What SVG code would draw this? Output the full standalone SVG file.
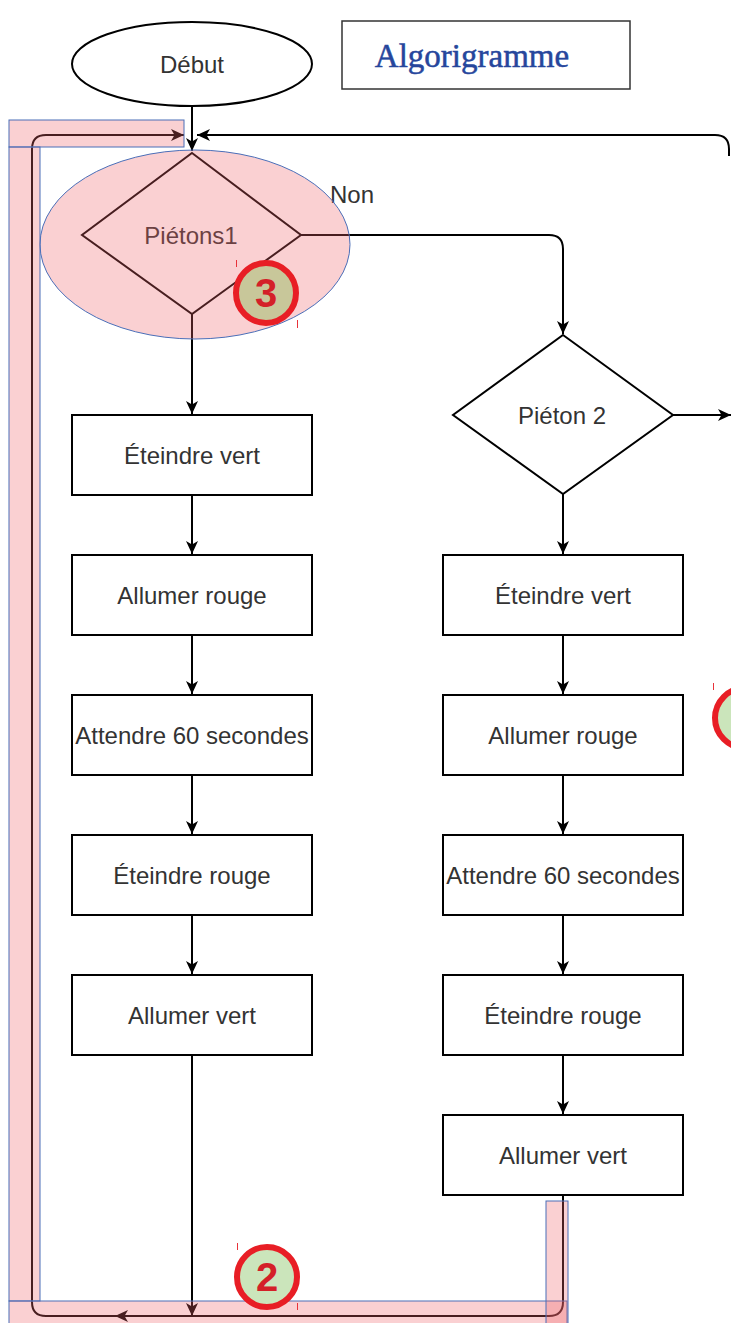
<svg xmlns="http://www.w3.org/2000/svg" width="731" height="1323" viewBox="0 0 731 1323">
<style>
.shape{fill:#ffffff;stroke:#000000;stroke-width:2}
.lbl{font-family:"Liberation Sans",Arial,sans-serif;font-size:24px;fill:#333333;text-anchor:middle}
.conn{fill:none;stroke:#000000;stroke-width:2}
.hl{fill:#ee646b;fill-opacity:0.3;stroke:#4a6eb8;stroke-width:1}
.badge{stroke:#e81e25;stroke-width:6}
.num{font-family:"Liberation Sans",Arial,sans-serif;font-size:40px;font-weight:bold;fill:#d42028;text-anchor:middle}
.tick{stroke:#e8323a;stroke-width:1}
</style>
<defs>
<marker id="arr" viewBox="0 0 13 12" refX="13" refY="6" markerWidth="13" markerHeight="12" markerUnits="userSpaceOnUse" orient="auto">
<path d="M0,0 L13,6 L0,12 L3.5,6 Z" fill="#000000"/>
</marker>
</defs>
<rect width="731" height="1323" fill="#ffffff"/>

<g id="title">
<rect x="342" y="21" width="288" height="68" fill="#ffffff" stroke="#333333" stroke-width="1.5"/>
<text x="472" y="67" font-family="'Liberation Serif','Times New Roman',serif" font-size="33" fill="#26469c" text-anchor="middle" stroke="#26469c" stroke-width="0.5">Algorigramme</text>
</g>

<g id="debut">
<ellipse class="shape" cx="192" cy="64" rx="120" ry="42"/>
<text class="lbl" x="192" y="73">Début</text>
</g>

<g id="pietons1">
<polygon class="shape" points="192,153 301,235 192,314 82,235"/>
<text class="lbl" x="191" y="244">Piétons1</text>
</g>

<g id="pieton2">
<polygon class="shape" points="563,335 673,415 563,494 453,415"/>
<text class="lbl" x="562" y="424">Piéton 2</text>
</g>

<g id="l1"><rect class="shape" x="72" y="415" width="240" height="80"/><text class="lbl" x="192" y="464">Éteindre vert</text></g>
<g id="l2"><rect class="shape" x="72" y="555" width="240" height="80"/><text class="lbl" x="192" y="604">Allumer rouge</text></g>
<g id="l3"><rect class="shape" x="72" y="695" width="240" height="80"/><text class="lbl" x="192" y="744">Attendre 60 secondes</text></g>
<g id="l4"><rect class="shape" x="72" y="835" width="240" height="80"/><text class="lbl" x="192" y="884">Éteindre rouge</text></g>
<g id="l5"><rect class="shape" x="72" y="975" width="240" height="80"/><text class="lbl" x="192" y="1024">Allumer vert</text></g>

<g id="r1"><rect class="shape" x="443" y="555" width="240" height="80"/><text class="lbl" x="563" y="604">Éteindre vert</text></g>
<g id="r2"><rect class="shape" x="443" y="695" width="240" height="80"/><text class="lbl" x="563" y="744">Allumer rouge</text></g>
<g id="r3"><rect class="shape" x="443" y="835" width="240" height="80"/><text class="lbl" x="563" y="884">Attendre 60 secondes</text></g>
<g id="r4"><rect class="shape" x="443" y="975" width="240" height="80"/><text class="lbl" x="563" y="1024">Éteindre rouge</text></g>
<g id="r5"><rect class="shape" x="443" y="1115" width="240" height="80"/><text class="lbl" x="563" y="1164">Allumer vert</text></g>

<g id="connectors">
<path class="conn" d="M192 106 V151" marker-end="url(#arr)"/>
<path class="conn" d="M192 314 V414" marker-end="url(#arr)"/>
<path class="conn" d="M192 495 V554" marker-end="url(#arr)"/>
<path class="conn" d="M192 635 V694" marker-end="url(#arr)"/>
<path class="conn" d="M192 775 V834" marker-end="url(#arr)"/>
<path class="conn" d="M192 915 V974" marker-end="url(#arr)"/>
<path class="conn" d="M192 1055 V1316" marker-end="url(#arr)"/>
<path class="conn" d="M301 235 H549 Q563 235 563 249 V334" marker-end="url(#arr)"/>
<text class="lbl" x="352" y="203">Non</text>
<path class="conn" d="M673 415 H731" marker-end="url(#arr)"/>
<path class="conn" d="M563 494 V554" marker-end="url(#arr)"/>
<path class="conn" d="M563 635 V694" marker-end="url(#arr)"/>
<path class="conn" d="M563 775 V834" marker-end="url(#arr)"/>
<path class="conn" d="M563 915 V974" marker-end="url(#arr)"/>
<path class="conn" d="M563 1055 V1114" marker-end="url(#arr)"/>
<path class="conn" d="M563 1195 V1302 Q563 1316 549 1316 H115" marker-end="url(#arr)"/>
<path class="conn" d="M120 1316 H46 Q32 1316 32 1302 V149 Q32 135 46 135 H184" marker-end="url(#arr)"/>
<path class="conn" d="M729 156 V149 Q729 135 715 135 H197" marker-end="url(#arr)"/>
</g>

<g id="highlights">
<ellipse class="hl" cx="195" cy="244.5" rx="155" ry="94.5"/>
<rect class="hl" x="9" y="120" width="175" height="27"/>
<rect class="hl" x="9" y="147" width="31" height="1154"/>
<rect class="hl" x="9" y="1301" width="558" height="30"/>
<rect class="hl" x="546" y="1201" width="22" height="130"/>
</g>

<g id="badge3">
<circle class="badge" cx="266" cy="293" r="30" fill="#c8c79a"/>
<text class="num" x="266" y="307">3</text>
<line class="tick" x1="236.5" y1="260" x2="236.5" y2="267"/>
<line class="tick" x1="297.5" y1="320" x2="297.5" y2="328"/>
</g>
<g id="badge2">
<circle class="badge" cx="267" cy="1277" r="30" fill="#cbe5bb"/>
<text class="num" x="267" y="1291">2</text>
<line class="tick" x1="237.5" y1="1243" x2="237.5" y2="1250"/>
<line class="tick" x1="297.5" y1="1303" x2="297.5" y2="1310"/>
</g>
<g id="badge-right">
<circle class="badge" cx="745" cy="718" r="30" fill="#cbe5bb"/>
<line class="tick" x1="713.5" y1="683" x2="713.5" y2="690"/>
</g>
</svg>
